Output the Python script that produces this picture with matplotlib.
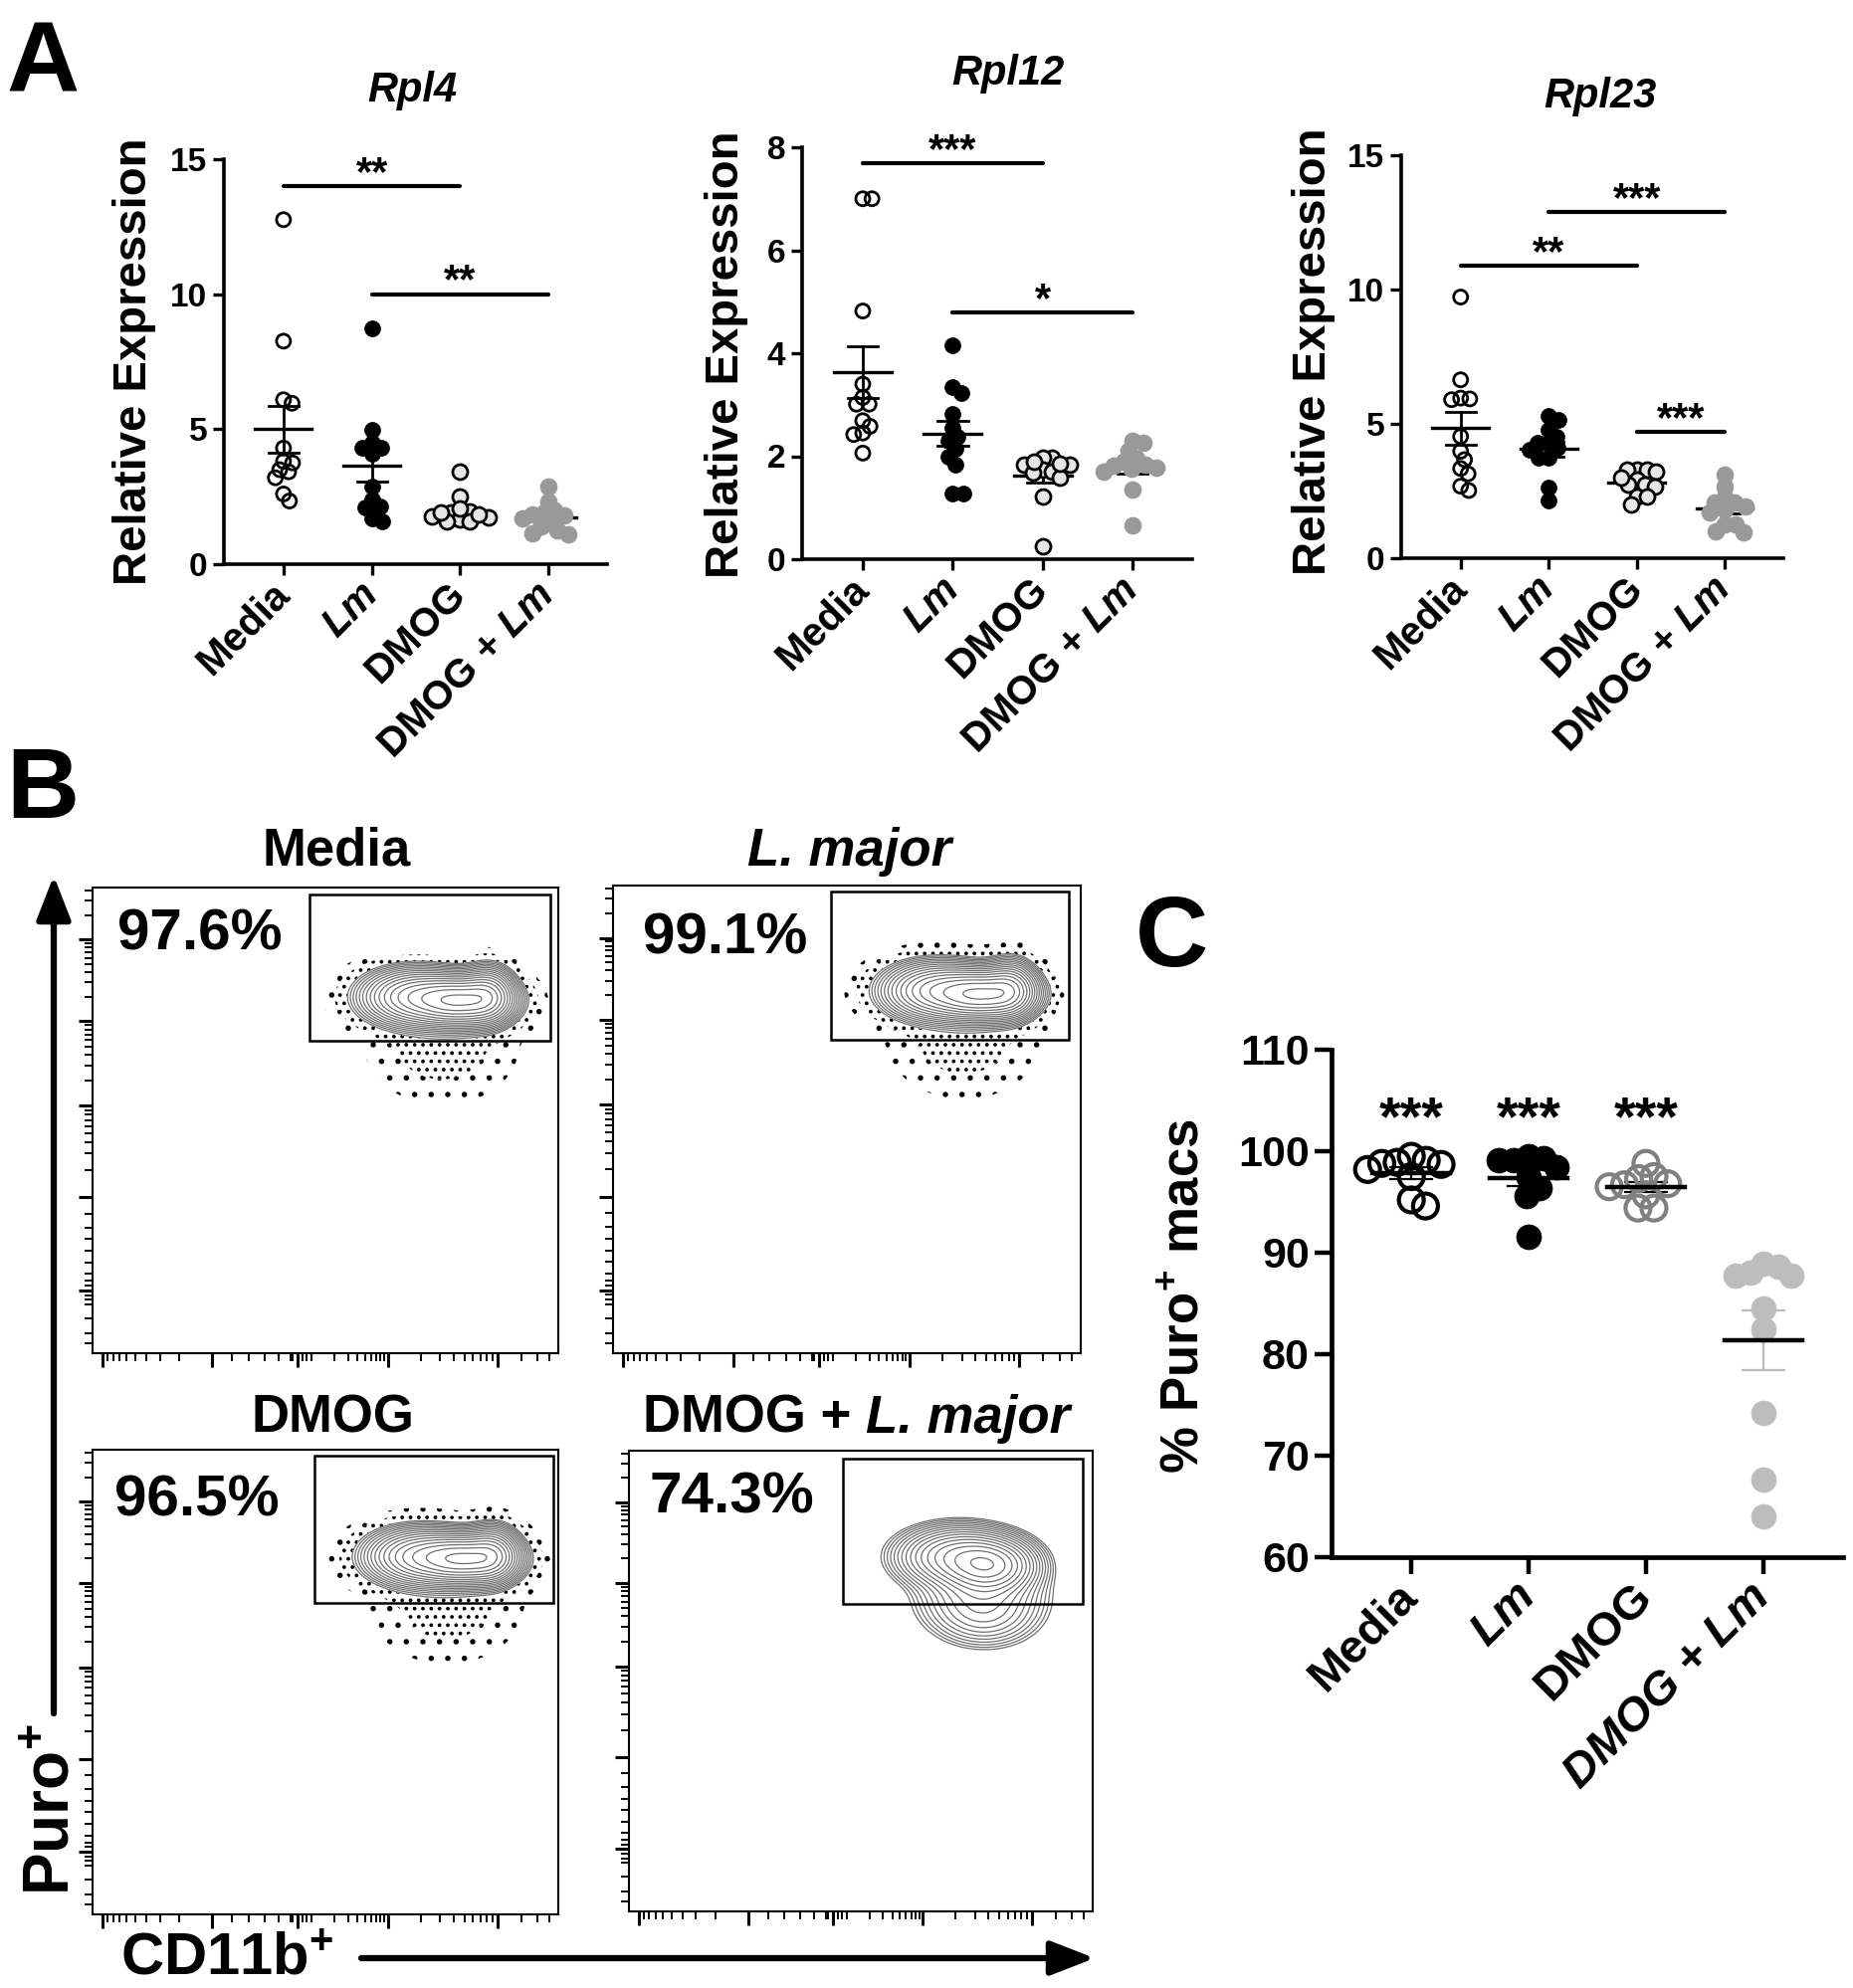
import matplotlib
matplotlib.use('Agg')
import matplotlib.pyplot as plt
import numpy as np

plt.rcParams['font.family'] = 'Liberation Sans'
plt.rcParams['font.weight'] = 'bold'
plt.rcParams['mathtext.fontset'] = 'custom'
plt.rcParams['mathtext.rm'] = 'Liberation Sans:bold'
plt.rcParams['mathtext.it'] = 'Liberation Sans:bold:italic'
plt.rcParams['mathtext.bf'] = 'Liberation Sans:bold'
plt.rcParams['hatch.color'] = 'black'
plt.rcParams['hatch.linewidth'] = 1.5

W, H = 1862, 1998

# ---------------- data ----------------
labels_A = ['Media', r'$\mathit{Lm}$', 'DMOG', r'DMOG + $\mathit{Lm}$']
labels_C = ['Media', r'$\mathit{Lm}$', 'DMOG', 'DMOG + Lm']

rpl4_media = [12.76, 8.26, 5.96, 6.09, 4.30, 3.81, 3.75, 3.42, 3.50, 3.2, 2.6, 2.34]
rpl4_lm = [8.73, 4.98, 4.49, 4.30, 4.10, 4.33, 2.89, 2.09, 2.15, 2.40, 1.58, 1.70]
rpl4_dmog = [3.42, 2.52, 1.97, 1.9, 1.78, 1.66, 1.72, 1.6, 1.57, 2.05, 1.9, 1.85]
rpl4_dmog_lm = [2.89, 2.34, 2.0, 1.9, 1.85, 1.8, 1.7, 1.6, 1.4, 1.25, 1.1, 1.15]
rpl4_sig = [(0, 2, 14.0, '**'), (1, 3, 10.0, '**')]

rpl12_media = [7.0, 7.0, 4.82, 3.40, 3.14, 3.01, 3.01, 2.69, 2.58, 2.45, 2.42, 2.06]
rpl12_lm = [4.16, 3.34, 3.23, 2.82, 2.55, 2.37, 2.29, 2.15, 2.0, 1.84, 1.27, 1.27]
rpl12_dmog = [1.97, 1.98, 1.84, 1.84, 1.74, 1.71, 1.68, 1.58, 1.21, 0.26, 1.9, 1.85]
rpl12_dmog_lm = [2.3, 2.26, 2.1, 1.95, 1.9, 1.84, 1.81, 1.78, 1.75, 1.7, 1.35, 0.65]
rpl12_sig = [(0, 2, 7.69, '***'), (1, 3, 4.79, '*')]

rpl23_media = [9.72, 6.64, 5.93, 5.96, 5.9, 4.53, 3.98, 3.67, 3.34, 3.14, 2.68, 2.52]
rpl23_lm = [5.15, 5.28, 4.78, 4.53, 4.29, 4.29, 4.04, 3.73, 3.73, 2.62, 2.15, 4.1]
rpl23_dmog = [3.3, 3.3, 3.3, 3.24, 2.93, 2.74, 2.74, 2.68, 2.31, 2.31, 2.0, 3.0]
rpl23_dmog_lm = [3.11, 2.68, 2.25, 2.06, 2.06, 1.94, 1.8, 1.69, 1.26, 1.26, 1.01, 0.95]
rpl23_sig = [(1, 3, 12.89, '***'), (0, 2, 10.89, '**'), (2, 3, 4.7, '***')]

puro_media = [99.5, 99.1, 98.9, 98.7, 98.2, 97.5, 95.2, 94.6, 98.8]
puro_lm = [99.5, 99.3, 99.1, 99.1, 98.4, 97.5, 96.4, 95.6, 91.6]
puro_dmog = [98.8, 97.3, 97.5, 96.8, 96.7, 95.7, 94.4, 94.4, 96.5]
puro_dmog_lm = [88.6, 87.7, 87.7, 88.0, 88.9, 84.5, 82.5, 74.2, 67.6, 64.0]
puro_sig = ['***', '***', '***', '']

flow_pct = ['97.6%', '99.1%', '96.5%', '74.3%']
# gate rectangles (x0, x1, y0, y1) in axis fraction
flow_gates = [(0.466, 0.983, 0.672, 0.985), (0.466, 0.974, 0.670, 0.987),
              (0.476, 0.990, 0.670, 0.987), (0.461, 0.979, 0.667, 0.983)]
# population blobs (cx, cy, sx, sy, weight)
flow_blobs = [
    [(0.69, 0.765, 0.06, 0.032, 0.6), (0.79, 0.757, 0.055, 0.028, 1.0), (0.85, 0.77, 0.03, 0.032, 0.45), (0.75, 0.66, 0.085, 0.065, 0.02)],
    [(0.69, 0.775, 0.06, 0.032, 0.6), (0.79, 0.767, 0.055, 0.028, 1.0), (0.85, 0.78, 0.03, 0.032, 0.45), (0.75, 0.67, 0.085, 0.065, 0.02)],
    [(0.70, 0.77, 0.06, 0.032, 0.6), (0.80, 0.765, 0.055, 0.028, 1.0), (0.86, 0.775, 0.03, 0.032, 0.45), (0.76, 0.665, 0.085, 0.065, 0.02)],
    [(0.71, 0.77, 0.065, 0.033, 0.8), (0.78, 0.75, 0.05, 0.03, 1.0), (0.76, 0.68, 0.07, 0.045, 0.3), (0.77, 0.63, 0.06, 0.035, 0.08)],
]
flow_dots = [True, True, True, False]


def axrect(l, r, t, b):
    return [l / W, 1 - b / H, (r - l) / W, (b - t) / H]


def swarm(vals, ux, uy, d):
    ys = np.asarray(vals, float) * uy
    xs = np.zeros(len(ys))
    placed = []
    for i in np.argsort(-ys, kind='stable'):
        cands = [0.0]
        for j in placed:
            dy = ys[i] - ys[j]
            if abs(dy) < d:
                dx = np.sqrt(d * d - dy * dy)
                cands += [xs[j] + dx, xs[j] - dx]
        cands.sort(key=lambda c: (abs(c), -c))
        for c in cands:
            if all((c - xs[j]) ** 2 + (ys[i] - ys[j]) ** 2 >= d * d - 1e-6 for j in placed):
                xs[i] = c
                break
        placed.append(i)
    return xs / ux


fig = plt.figure(figsize=(W / 100, H / 100), dpi=100)
ov = fig.add_axes([0, 0, 1, 1])
ov.set_xlim(0, W)
ov.set_ylim(H, 0)
ov.axis('off')


def dot_panel(groups, styles, ylim, yticks, sig, px):
    ax = fig.add_axes(axrect(*px))
    ax.set_xlim(-0.675, 3.665)
    ax.set_ylim(*ylim)
    ux = (px[1] - px[0]) / 4.34
    uy = (px[3] - px[2]) / (ylim[1] - ylim[0])
    for i, (vals, st) in enumerate(zip(groups, styles)):
        off = swarm(vals, ux, uy, st['d'] * 0.66)
        m = np.mean(vals)
        se = np.std(vals, ddof=1) / np.sqrt(len(vals))
        ax.plot([i - 0.32, i + 0.32], [m, m], color='k', lw=2.4, zorder=2)
        ax.plot([i, i], [m - se, m + se], color='k', lw=2.0, zorder=2)
        for v in (m - se, m + se):
            ax.plot([i - 0.17, i + 0.17], [v, v], color='k', lw=2.0, zorder=2)
        s = (st['d'] * 0.72) ** 2
        ax.scatter(i + off, vals, s=s, facecolor=st['fc'], edgecolor=st['ec'],
                   linewidths=st['lw'], zorder=3)
    for x1, x2, y, txt in sig:
        ax.plot([x1, x2], [y, y], color='k', lw=3, solid_capstyle='round', zorder=4)
        ax.annotate(txt, ((x1 + x2) / 2, y), xytext=(0, 1), textcoords='offset points',
                    ha='center', va='baseline', fontsize=30, fontweight='bold')
    ax.set_yticks(yticks)
    ax.set_xticks(range(4))
    ax.set_xticklabels(labels_A, rotation=45, ha='right', va='center',
                       rotation_mode='anchor', fontsize=29, fontweight='bold')
    ax.tick_params(axis='y', labelsize=24, length=8, width=2.4, pad=4)
    ax.tick_params(axis='x', length=8, width=2.4, pad=10)
    for sp in ['top', 'right']:
        ax.spines[sp].set_visible(False)
    for sp in ['left', 'bottom']:
        ax.spines[sp].set_linewidth(2.6)
    return ax


styles_A = [dict(d=14, fc='none', ec='k', lw=2.0),
            dict(d=16, fc='k', ec='k', lw=0.5),
            dict(d=15, fc='#e6e6e6', ec='k', lw=2.0),
            dict(d=17, fc='#999999', ec='#999999', lw=0.5)]

dot_panel([rpl4_media, rpl4_lm, rpl4_dmog, rpl4_dmog_lm], styles_A, (0, 15), [0, 5, 10, 15],
          rpl4_sig, (225, 610, 160, 567))
dot_panel([rpl12_media, rpl12_lm, rpl12_dmog, rpl12_dmog_lm], styles_A, (0, 8), [0, 2, 4, 6, 8],
          rpl12_sig, (806, 1198, 148, 562))
dot_panel([rpl23_media, rpl23_lm, rpl23_dmog, rpl23_dmog_lm], styles_A, (0, 15), [0, 5, 10, 15],
          rpl23_sig, (1408, 1792, 156, 561))

for txt, x, y in [('Rpl4', 414, 102), ('Rpl12', 1013, 85), ('Rpl23', 1608, 108)]:
    ov.text(x, y, txt, ha='center', va='baseline', fontsize=30, fontweight='bold', fontstyle='italic')
for x, y in [(135, 363), (730, 356), (1320, 353)]:
    ov.text(x, y, 'Relative Expression', rotation=90, ha='center', va='center',
            fontsize=34, fontweight='bold')

# ---------------- panel C ----------------
pxC = (1338, 1852, 1055, 1565)
axC = fig.add_axes(axrect(*pxC))
axC.set_xlim(-0.68, 3.68)
axC.set_ylim(60, 110)
uxC = (pxC[1] - pxC[0]) / 4.36
uyC = (pxC[3] - pxC[2]) / 50
styles_C = [dict(d=25, fc='none', ec='k', lw=3.0, eb='k'),
            dict(d=25, fc='k', ec='k', lw=0.5, eb='k'),
            dict(d=25, fc='none', ec='#808080', lw=3.0, eb='k'),
            dict(d=25, fc='#bdbdbd', ec='#bdbdbd', lw=0.5, eb='#bdbdbd')]
for i, (vals, st) in enumerate(zip([puro_media, puro_lm, puro_dmog, puro_dmog_lm], styles_C)):
    off = swarm(vals, uxC, uyC, st['d'] * 0.62)
    m = np.mean(vals)
    se = np.std(vals, ddof=1) / np.sqrt(len(vals))
    axC.plot([i, i], [m - se, m + se], color=st['eb'], lw=1.6, zorder=2)
    for v in (m - se, m + se):
        axC.plot([i - 0.18, i + 0.18], [v, v], color=st['eb'], lw=1.6, zorder=2)
    axC.scatter(i + off, vals, s=(st['d'] * 0.72) ** 2, facecolor=st['fc'],
                edgecolor=st['ec'], linewidths=st['lw'], zorder=3)
    axC.plot([i - 0.33, i + 0.33], [m, m], color='k', lw=3.2, zorder=4)
    if puro_sig[i]:
        axC.text(i, 101.6, puro_sig[i], ha='center', va='baseline', fontsize=40, fontweight='bold')
axC.set_yticks([60, 70, 80, 90, 100, 110])
axC.set_xticks(range(4))
axC.set_xticklabels(labels_C, rotation=45, ha='right', va='center',
                    rotation_mode='anchor', fontsize=34, fontweight='bold')
axC.get_xticklabels()[3].set_fontstyle('italic')
axC.tick_params(axis='y', labelsize=31, length=12, width=3.2, pad=4)
axC.tick_params(axis='x', length=12, width=3.2, pad=12)
for sp in ['top', 'right']:
    axC.spines[sp].set_visible(False)
for sp in ['left', 'bottom']:
    axC.spines[sp].set_linewidth(3.4)
ov.text(1190, 1303, r'$\%\ \mathrm{Puro}^{+}\ \mathrm{macs}$', rotation=90, ha='center', va='center',
        fontsize=38)

# ---------------- panel B (flow plots) ----------------
flow_px = [(93, 561, 892, 1360), (616, 1086, 890, 1360), (93, 561, 1457, 1924), (632, 1098, 1458, 1921)]
pct_pos = [(0.053, 0.867), (0.064, 0.855), (0.047, 0.857), (0.045, 0.866)]


def dec(lo, hi, rev=False):
    f = np.log10(np.arange(2, 10))
    return list(hi - f * (hi - lo)) if rev else list(lo + f * (hi - lo))


ymaj = [0.135, 0.335, 0.531, 0.713, 0.888]
ymin = dec(0.335, 0.531) + dec(0.531, 0.713) + dec(0.713, 0.888) + [v for v in dec(0.888, 1.063) if v < 1]
ymin += [0.30, 0.27, 0.245, 0.22, 0.195, 0.17, 0.155, 0.145, 0.125, 0.115, 0.105, 0.075, 0.043, 0.021]
xmaj = [0.021, 0.257, 0.44, 0.634, 0.869]
xmin = dec(0.021, 0.257, rev=True) + [0.30, 0.335, 0.37, 0.40, 0.425, 0.43, 0.45, 0.46, 0.47]
xmin += dec(0.47, 0.634) + dec(0.634, 0.869) + [0.92, 0.955, 0.98]

gx, gy = np.meshgrid(np.linspace(0, 1, 400), np.linspace(0, 1, 400))
for k in range(4):
    ax = fig.add_axes(axrect(*flow_px[k]))
    ax.set_xlim(0, 1)
    ax.set_ylim(0, 1)
    Z = np.zeros_like(gx)
    for cx, cy, sx, sy, w in flow_blobs[k]:
        Z += w * np.exp(-((gx - cx) ** 2 / (2 * sx ** 2) + (gy - cy) ** 2 / (2 * sy ** 2)))
    zmax = Z.max()
    lo = 0.03 if flow_dots[k] else 0.02
    if flow_dots[k]:
        ax.contourf(gx, gy, Z, levels=zmax * np.array([0.0025, 0.009]), colors='none', hatches=['.'])
        ax.contourf(gx, gy, Z, levels=zmax * np.array([0.009, 0.04]), colors='none', hatches=['..'])
        ax.contourf(gx, gy, Z, levels=zmax * np.array([0.03, 1.1]), colors='white')
    ax.contour(gx, gy, Z, levels=zmax * np.geomspace(lo, 0.93, 16), colors='#707070', linewidths=0.9)
    x0, x1, y0, y1 = flow_gates[k]
    ax.add_patch(plt.Rectangle((x0, y0), x1 - x0, y1 - y0, fill=False, ec='k', lw=1.8, zorder=5))
    ax.text(*pct_pos[k], flow_pct[k], ha='left', va='baseline', fontsize=42, fontweight='bold',
            transform=ax.transAxes)
    ax.set_yticks(ymaj)
    ax.set_yticks(ymin, minor=True)
    ax.set_xticks(xmaj)
    ax.set_xticks(xmin, minor=True)
    ax.set_xticklabels([])
    ax.set_yticklabels([])
    ax.tick_params(which='major', length=10, width=2.2, direction='out')
    ax.tick_params(which='minor', length=6, width=1.4, direction='out')
    for sp in ax.spines.values():
        sp.set_linewidth(1.5)

ov.text(338, 870, 'Media', ha='center', va='baseline', fontsize=38, fontweight='bold')
ov.text(854, 870, 'L. major', ha='center', va='baseline', fontsize=38, fontweight='bold', fontstyle='italic')
ov.text(334, 1440, 'DMOG', ha='center', va='baseline', fontsize=38, fontweight='bold')
t1 = ov.text(646, 1440, 'DMOG + ', ha='left', va='baseline', fontsize=38, fontweight='bold')
ov.annotate('L. major', xy=(1, 0), xycoords=t1, ha='left', va='bottom', fontsize=38,
            fontweight='bold', fontstyle='italic')

# axis arrows and labels
ov.annotate('', xy=(54, 880), xytext=(54, 1722),
            arrowprops=dict(arrowstyle='-|>,head_length=0.9,head_width=0.35', lw=4.5, color='k',
                            mutation_scale=30, shrinkA=0, shrinkB=0))
ov.annotate('', xy=(1100, 1968), xytext=(363, 1968),
            arrowprops=dict(arrowstyle='-|>,head_length=0.9,head_width=0.35', lw=4.5, color='k',
                            mutation_scale=30, shrinkA=0, shrinkB=0))
ov.text(53, 1905, r'$\mathrm{Puro}^{+}$', rotation=90, ha='center', va='bottom', fontsize=46)
ov.text(121, 1985, r'$\mathrm{CD11b}^{+}$', ha='left', va='baseline', fontsize=43)

# panel letters
ov.text(6, 92, 'A', ha='left', va='baseline', fontsize=73, fontweight='bold')
ov.text(6, 822, 'B', ha='left', va='baseline', fontsize=73, fontweight='bold')
ov.text(1141, 971, 'C', ha='left', va='baseline', fontsize=73, fontweight='bold')

fig.savefig('out.png', dpi=100)
